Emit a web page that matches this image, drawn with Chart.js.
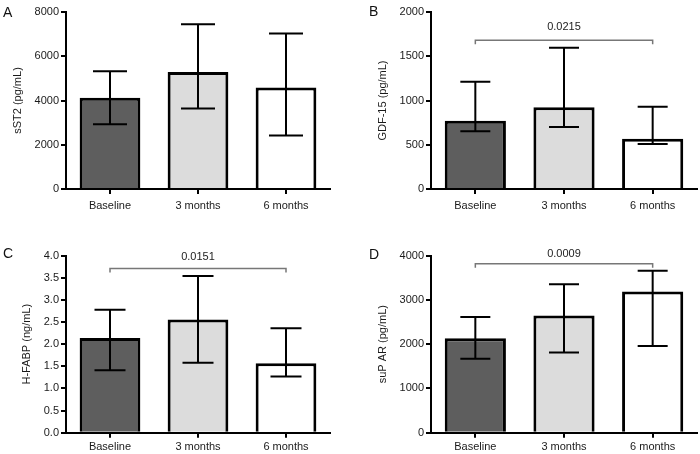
<!DOCTYPE html>
<html>
<head>
<meta charset="utf-8">
<script src="https://cdn.jsdelivr.net/npm/chart.js@4/dist/chart.umd.min.js"></script>
<style>
html,body{margin:0;padding:0;background:#fff;}
#wrap{position:relative;width:700px;height:454px;overflow:hidden;background:#fff;}
.panel{position:absolute;width:350px;height:227px;}
.letter{position:absolute;font-family:"Liberation Sans",Arial,sans-serif;font-size:14px;line-height:1;color:#111;}
</style>
</head>
<body>
<div id="wrap">
  <div class="panel" style="left:0;top:0"><canvas id="cA" width="350" height="227"></canvas></div>
  <div class="panel" style="left:350px;top:0"><canvas id="cB" width="350" height="227"></canvas></div>
  <div class="panel" style="left:0;top:227px"><canvas id="cC" width="350" height="227"></canvas></div>
  <div class="panel" style="left:350px;top:227px"><canvas id="cD" width="350" height="227"></canvas></div>
  <div class="letter" style="left:3px;top:5px">A</div>
  <div class="letter" style="left:369px;top:4px">B</div>
  <div class="letter" style="left:3px;top:246px">C</div>
  <div class="letter" style="left:369px;top:247px">D</div>
</div>
<script>
// ---- data ----
const categories = ['Baseline', '3 months', '6 months'];

const sst2Median = [4120, 5290, 4590];
const sst2Low    = [2930, 3640, 2420];
const sst2High   = [5320, 7450, 7030];
const sst2Ticks  = [0, 2000, 4000, 6000, 8000];

const gdf15Median = [772, 925, 569];
const gdf15Low    = [652, 700, 508];
const gdf15High   = [1212, 1595, 930];
const gdf15Ticks  = [0, 500, 1000, 1500, 2000];
const gdf15PValue = '0.0215';
const gdf15BracketLevel = 1680;

const hfabpMedian = [2.14, 2.56, 1.57];
const hfabpLow    = [1.41, 1.58, 1.27];
const hfabpHigh   = [2.78, 3.54, 2.36];
const hfabpTicks  = [0, 0.5, 1.0, 1.5, 2.0, 2.5, 3.0, 3.5, 4.0];
const hfabpPValue = '0.0151';
const hfabpBracketLevel = 3.71;

const suparMedian = [2135, 2650, 3190];
const suparLow    = [1672, 1815, 1960];
const suparHigh   = [2615, 3352, 3660];
const suparTicks  = [0, 1000, 2000, 3000, 4000];
const suparPValue = '0.0009';
const suparBracketLevel = 3820;

const barFills = ['#5e5e5e', '#dcdcdc', '#ffffff'];
const FONT = '"Liberation Sans", Arial, sans-serif';

function makePanel(canvasId, cfg) {
  const extras = {
    id: 'extras_' + canvasId,
    afterDatasetsDraw(chart) {
      const ctx = chart.ctx, xs = chart.scales.x, ys = chart.scales.y;
      ctx.save();
      ctx.strokeStyle = '#000';
      ctx.lineWidth = 2;
      ctx.lineCap = 'butt';
      const hw = cfg.cap / 2;
      cfg.low.forEach((lo, i) => {
        const cx = xs.getPixelForValue(i);
        const yl = ys.getPixelForValue(lo);
        const yh = ys.getPixelForValue(cfg.high[i]);
        ctx.beginPath();
        ctx.moveTo(cx, yh); ctx.lineTo(cx, yl);
        ctx.moveTo(cx - hw, yh); ctx.lineTo(cx + hw, yh);
        ctx.moveTo(cx - hw, yl); ctx.lineTo(cx + hw, yl);
        ctx.stroke();
      });
      if (cfg.pValue) {
        const x0 = xs.getPixelForValue(0), x2 = xs.getPixelForValue(2);
        const by = ys.getPixelForValue(cfg.bracket);
        ctx.strokeStyle = '#777';
        ctx.lineWidth = 1.5;
        ctx.beginPath();
        ctx.moveTo(x0, by + 4); ctx.lineTo(x0, by); ctx.lineTo(x2, by); ctx.lineTo(x2, by + 4);
        ctx.stroke();
        ctx.fillStyle = '#222';
        ctx.font = '11px ' + FONT;
        ctx.textAlign = 'center';
        ctx.textBaseline = 'middle';
        ctx.fillText(cfg.pValue, (x0 + x2) / 2, by - cfg.textGap);
      }
      ctx.restore();
    }
  };

  return new Chart(document.getElementById(canvasId), {
    type: 'bar',
    data: {
      labels: categories,
      datasets: [{
        data: cfg.values,
        backgroundColor: barFills,
        borderColor: '#000',
        borderWidth: 3,
        categoryPercentage: 1,
        barPercentage: 0.69
      }]
    },
    options: {
      responsive: false,
      animation: false,
      devicePixelRatio: 1,
      events: [],
      layout: { padding: { left: cfg.padLeft, top: cfg.top, right: 350 - cfg.right, bottom: 0 } },
      plugins: { legend: { display: false }, tooltip: { enabled: false } },
      scales: {
        x: {
          grid: { display: true, offset: false, drawOnChartArea: false, drawTicks: true, tickLength: 5, color: '#000', lineWidth: 2 },
          border: { display: true, color: '#000', width: 2 },
          ticks: { color: '#1a1a1a', font: { family: FONT, size: 11 }, padding: cfg.xPad, maxRotation: 0 },
          afterFit(scale) { scale.height = 227 - cfg.bottom; }
        },
        y: {
          min: cfg.ticks[0],
          max: cfg.ticks[cfg.ticks.length - 1],
          afterBuildTicks(scale) { scale.ticks = cfg.ticks.map(v => ({ value: v })); },
          grid: { display: true, drawOnChartArea: false, drawTicks: true, tickLength: 5, color: '#000', lineWidth: 2 },
          border: { display: true, color: '#000', width: 2 },
          ticks: {
            color: '#1a1a1a', font: { family: FONT, size: 11 }, padding: 2,
            callback: v => cfg.decimals ? Number(v).toFixed(cfg.decimals) : String(v)
          },
          title: { display: true, text: cfg.yTitle, color: '#1a1a1a', font: { family: FONT, size: 11 }, padding: { top: 0, bottom: 0 } },
          afterFit(scale) { scale.width = cfg.left - cfg.padLeft; }
        }
      }
    },
    plugins: [extras]
  });
}

makePanel('cA', {
  values: sst2Median, low: sst2Low, high: sst2High, ticks: sst2Ticks,
  yTitle: 'sST2 (pg/mL)', left: 66, right: 330, top: 12, bottom: 189,
  padLeft: 11.4, xPad: 5, cap: 34
});
makePanel('cB', {
  values: gdf15Median, low: gdf15Low, high: gdf15High, ticks: gdf15Ticks,
  yTitle: 'GDF-15 (pg/mL)', left: 81, right: 347, top: 12, bottom: 189,
  padLeft: 26.4, xPad: 5, cap: 30, pValue: gdf15PValue, bracket: gdf15BracketLevel, textGap: 13
});
makePanel('cC', {
  values: hfabpMedian, low: hfabpLow, high: hfabpHigh, ticks: hfabpTicks, decimals: 1,
  yTitle: 'H-FABP (ng/mL)', left: 66, right: 330, top: 28.7, bottom: 205.7,
  padLeft: 20.4, xPad: 3, cap: 31, pValue: hfabpPValue, bracket: hfabpBracketLevel, textGap: 12
});
makePanel('cD', {
  values: suparMedian, low: suparLow, high: suparHigh, ticks: suparTicks,
  yTitle: 'suP AR (pg/mL)', left: 81, right: 347, top: 28.7, bottom: 205.7,
  padLeft: 26.4, xPad: 3, cap: 30, pValue: suparPValue, bracket: suparBracketLevel, textGap: 10
});
</script>
</body>
</html>
